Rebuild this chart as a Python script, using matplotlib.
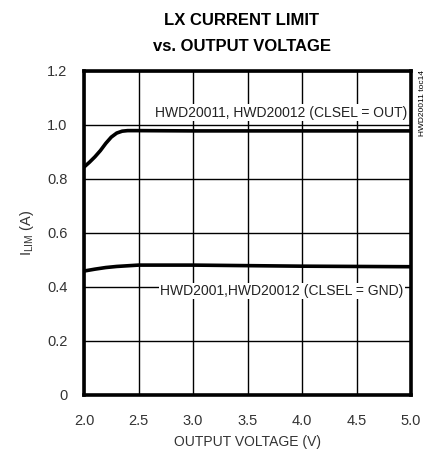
import matplotlib
matplotlib.use('Agg')
import matplotlib.pyplot as plt

# OUT curve (CLSEL = OUT)
v_out = [2.0, 2.05, 2.1, 2.15, 2.2, 2.25, 2.3, 2.35, 2.4, 2.5, 3.0, 3.5, 4.0, 4.5, 5.0]
i_out = [0.844, 0.862, 0.882, 0.905, 0.932, 0.955, 0.970, 0.977, 0.979, 0.979, 0.978, 0.978, 0.978, 0.978, 0.978]
# GND curve (CLSEL = GND)
v_gnd = [2.0, 2.1, 2.2, 2.3, 2.5, 3.0, 3.5, 4.0, 4.5, 5.0]
i_gnd = [0.459, 0.466, 0.472, 0.476, 0.481, 0.481, 0.479, 0.477, 0.476, 0.475]

xticks = [2.0, 2.5, 3.0, 3.5, 4.0, 4.5, 5.0]
yticks = [0, 0.2, 0.4, 0.6, 0.8, 1.0, 1.2]
ytick_labels = ['0', '0.2', '0.4', '0.6', '0.8', '1.0', '1.2']

plt.rcParams['font.family'] = ['Liberation Sans Narrow', 'Liberation Sans', 'DejaVu Sans']

fig = plt.figure(figsize=(4.36, 4.54), dpi=100)
ax = fig.add_axes([0.1927, 0.130, 0.75, 0.7137])

ax.plot(v_out, i_out, color='black', lw=2.6, solid_capstyle='butt', zorder=3)
ax.plot(v_gnd, i_gnd, color='black', lw=2.6, solid_capstyle='butt', zorder=3)

ax.set_xlim(2.0, 5.0)
ax.set_ylim(0, 1.2)
ax.set_xticks(xticks)
ax.set_xticklabels(['%.1f' % x for x in xticks])
ax.set_yticks(yticks)
ax.set_yticklabels(ytick_labels)
ax.tick_params(length=0, labelsize=10.5, colors='#333333')
ax.tick_params(axis='x', pad=14)
ax.tick_params(axis='y', pad=12)
ax.grid(True, color='black', lw=1.0)
for s in ax.spines.values():
    s.set_linewidth(2.6)

ax.set_xlabel('OUTPUT VOLTAGE (V)', fontsize=10, labelpad=5, color='#333333')
ax.set_ylabel('I$_{\\mathregular{LIM}}$ (A)', fontsize=10.5, labelpad=8, color='#333333')

ax.text(4.965, 1.045, 'HWD20011, HWD20012 (CLSEL = OUT)', ha='right', va='center',
        fontsize=10, color='#222222',
        bbox=dict(facecolor='white', edgecolor='none', pad=1), zorder=4)
ax.text(4.93, 0.385, 'HWD2001,HWD20012 (CLSEL = GND)', ha='right', va='center',
        fontsize=10, color='#222222',
        bbox=dict(facecolor='white', edgecolor='none', pad=1), zorder=4)

fig.text(0.968, 0.845, 'HWD20011 toc14', rotation=90, ha='center', va='top', fontsize=6)

fig.text(0.555, 0.955, 'LX CURRENT LIMIT', ha='center', va='center', fontsize=12, fontweight='bold')
fig.text(0.555, 0.898, 'vs. OUTPUT VOLTAGE', ha='center', va='center', fontsize=12, fontweight='bold')

fig.savefig('out.png', dpi=100)
